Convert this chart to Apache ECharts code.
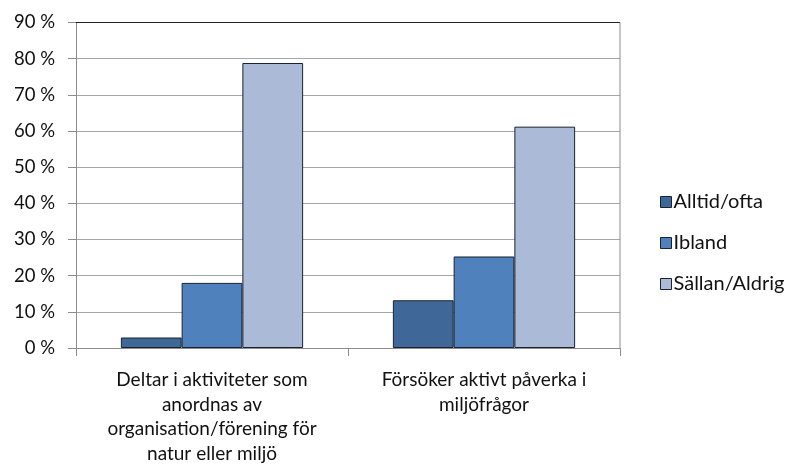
<!DOCTYPE html>
<html>
<head>
<meta charset="utf-8">
<script src="https://cdn.jsdelivr.net/npm/echarts@6/dist/echarts.min.js"></script>
<style>
  html, body { margin: 0; padding: 0; background: #fff; }
  #chart { width: 792px; height: 471px; }
</style>
</head>
<body>
<div id="chart"></div>
<script>
// categories (line breaks as in the original chart)
var categories = [
  'Deltar i aktiviteter som\nanordnas av\norganisation/förening för\nnatur eller miljö',
  'Försöker aktivt påverka i\nmiljöfrågor'
];
var seriesNames = ['Alltid/ofta', 'Ibland', 'Sällan/Aldrig'];
var alltid = [2.9, 13.2];
var ibland = [18.0, 25.3];
var sallan = [78.8, 61.2];
var colors = ['#3F6899', '#4F81BD', '#AABAD7'];

var font = 'Lato, "Open Sans", sans-serif';

var chart = echarts.init(document.getElementById('chart'));

function bar(name, data, color) {
  return {
    name: name,
    type: 'bar',
    data: data,
    barGap: '0%',
    barCategoryGap: '33%',
    itemStyle: { color: color, borderColor: '#1a2230', borderWidth: 1 }
  };
}

var option = {
  animation: false,
  textStyle: { fontFamily: font },
  grid: { left: 76, right: 172, top: 22.5, bottom: 123, containLabel: false },
  legend: {
    orient: 'vertical',
    left: 655,
    top: 187,
    itemWidth: 11,
    itemHeight: 11,
    itemGap: 21,
    icon: 'rect',
    textStyle: { fontSize: 20, color: '#111', fontFamily: font, padding: [0, 0, 0, -3] },
    data: seriesNames.map(function (n, i) {
      return { name: n, itemStyle: { borderColor: '#1a2230', borderWidth: 1 } };
    })
  },
  xAxis: {
    type: 'category',
    data: categories,
    axisLine: { show: true, lineStyle: { color: '#8c8c8c', width: 1 } },
    axisTick: { show: true, length: 8, alignWithLabel: false, lineStyle: { color: '#8c8c8c' } },
    axisLabel: { fontSize: 19, color: '#111', lineHeight: 24.5, margin: 20, fontFamily: font },
    splitLine: { show: false }
  },
  yAxis: {
    type: 'value',
    min: 0,
    max: 90,
    interval: 10,
    axisLine: { show: true, lineStyle: { color: '#8c8c8c', width: 1 } },
    axisTick: { show: true, length: 8, lineStyle: { color: '#8c8c8c' } },
    axisLabel: {
      fontSize: 18.5, color: '#111', margin: 21, fontFamily: font,
      formatter: function (v) { return v + ' %'; }
    },
    splitLine: { show: true, lineStyle: { color: '#a6a6a6', width: 1 } }
  },
  series: [
    bar(seriesNames[0], alltid, colors[0]),
    bar(seriesNames[1], ibland, colors[1]),
    bar(seriesNames[2], sallan, colors[2])
  ],
  graphic: [
    // plot area border: top and right edges
    { type: 'line', shape: { x1: 76, y1: 22.5, x2: 620, y2: 22.5 }, style: { stroke: '#222', lineWidth: 1 }, z: 10 },
    { type: 'line', shape: { x1: 620, y1: 22.5, x2: 620, y2: 348 }, style: { stroke: '#8c8c8c', lineWidth: 1 }, z: 10 }
  ]
};

chart.setOption(option);
</script>
</body>
</html>
